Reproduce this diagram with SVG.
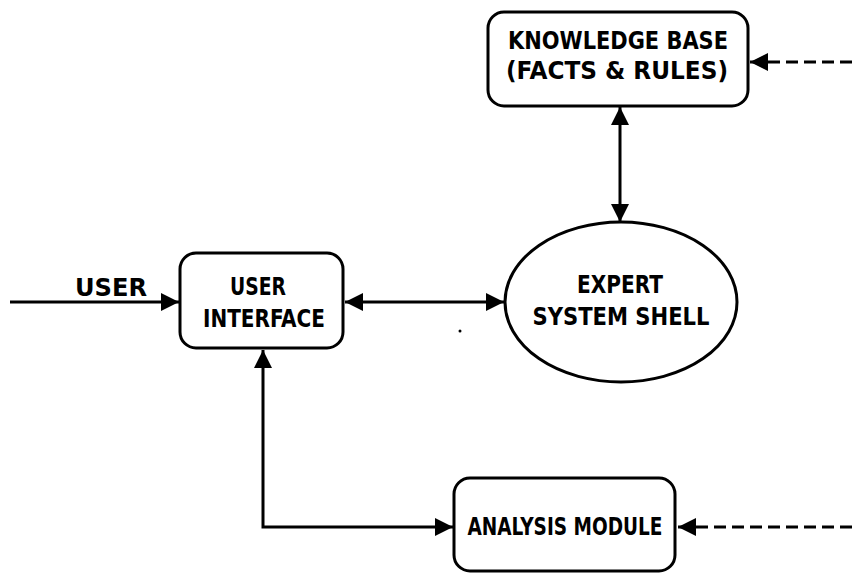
<svg xmlns="http://www.w3.org/2000/svg" width="854" height="573" viewBox="0 0 854 573">
<style>
.box{fill:#fff;stroke:#000;stroke-width:3}
.t{font-family:"DejaVu Sans Condensed","DejaVu Sans",sans-serif;font-weight:bold;font-size:24px;fill:#000;text-anchor:middle}
.ln{fill:none;stroke:#000;stroke-width:3}
.dash{fill:none;stroke:#000;stroke-width:3;stroke-dasharray:12 6}
</style>
<defs>
<marker id="ah" viewBox="0 0 10 10" refX="10" refY="5" markerWidth="7.5" markerHeight="6" markerUnits="strokeWidth" orient="auto-start-reverse">
<path d="M0,0 L10,5 L0,10 z" fill="#000"/>
</marker>
</defs>
<rect width="854" height="573" fill="#fff"/>
<g id="connectors">
<line class="ln" x1="10" y1="302" x2="179" y2="302" marker-end="url(#ah)"/>
<line class="ln" x1="345" y1="302" x2="504" y2="302" marker-start="url(#ah)" marker-end="url(#ah)"/>
<line class="ln" x1="620" y1="107" x2="620" y2="222" marker-start="url(#ah)" marker-end="url(#ah)"/>
<polyline class="ln" points="263,350 263,527 453,527" marker-start="url(#ah)" marker-end="url(#ah)"/>
<line class="dash" x1="852" y1="62" x2="750" y2="62" marker-end="url(#ah)"/>
<line class="dash" x1="852" y1="527" x2="678" y2="527" marker-end="url(#ah)"/>
</g>
<text class="t" x="111" y="296" textLength="72" lengthAdjust="spacingAndGlyphs">USER</text>
<g id="kb">
<rect class="box" x="488" y="12" width="260" height="94" rx="16"/>
<text class="t" x="618" y="49" textLength="220" lengthAdjust="spacingAndGlyphs">KNOWLEDGE BASE</text>
<text class="t" x="617" y="79" textLength="222" lengthAdjust="spacingAndGlyphs">(FACTS &amp; RULES)</text>
</g>
<g id="ui">
<rect class="box" x="180" y="253" width="163" height="95" rx="16"/>
<text class="t" x="258" y="295" textLength="56" lengthAdjust="spacingAndGlyphs">USER</text>
<text class="t" x="264" y="327" textLength="122" lengthAdjust="spacingAndGlyphs">INTERFACE</text>
</g>
<g id="shell">
<ellipse class="box" cx="621" cy="302" rx="116" ry="80"/>
<text class="t" x="620" y="293" textLength="86" lengthAdjust="spacingAndGlyphs">EXPERT</text>
<text class="t" x="621" y="325" textLength="177" lengthAdjust="spacingAndGlyphs">SYSTEM SHELL</text>
</g>
<g id="am">
<rect class="box" x="454" y="478" width="221" height="93" rx="16"/>
<text class="t" x="565" y="535" textLength="195" lengthAdjust="spacingAndGlyphs">ANALYSIS MODULE</text>
</g>
<circle cx="460" cy="331" r="1.5" fill="#000"/>
</svg>
